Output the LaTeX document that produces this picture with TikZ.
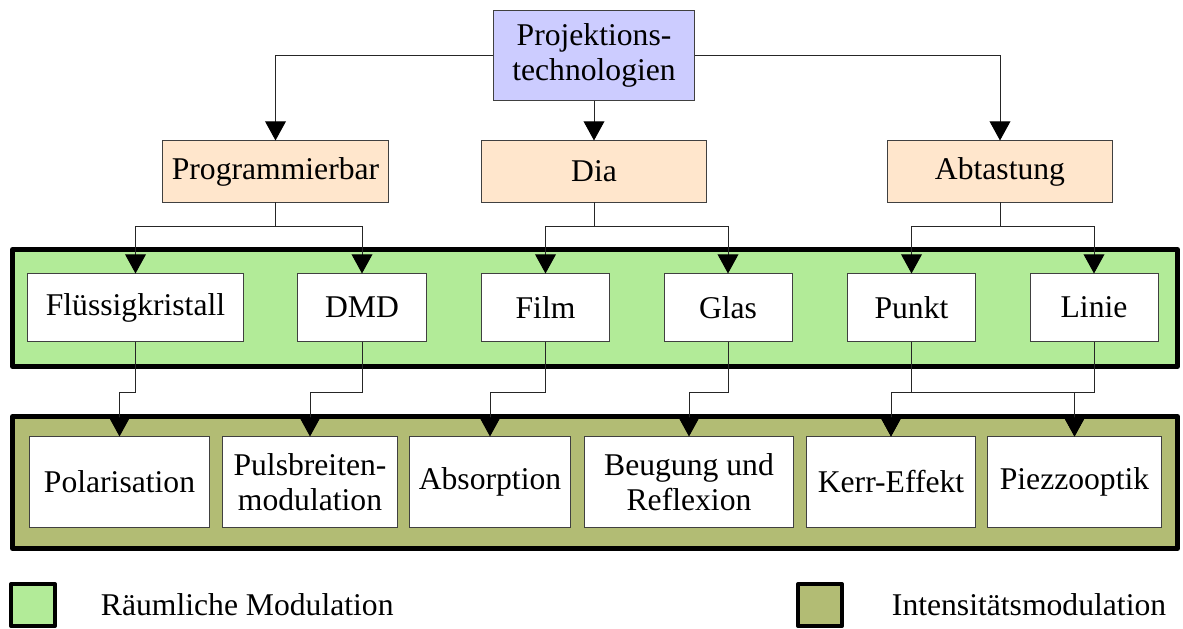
\documentclass[tikz,border=0pt]{standalone}
\usepackage{fontspec}
\setmainfont{Liberation Serif}
\usetikzlibrary{arrows.meta, positioning}

\definecolor{rootblue}{RGB}{204,204,255}
\definecolor{catpeach}{RGB}{255,230,204}
\definecolor{spatgreen}{RGB}{178,235,152}
\definecolor{intolive}{RGB}{178,188,116}

\begin{document}
\begin{tikzpicture}[
    x=0.025cm, y=-0.025cm,
    font=\fontsize{22.5}{25}\selectfont,
    box/.style={draw=black!75, line width=0.7pt, fill=white, inner sep=0pt, align=center},
    root/.style={box, fill=rootblue, minimum width=5cm, minimum height=2.225cm},
    cat/.style={box, fill=catpeach, minimum width=5.625cm, minimum height=1.525cm},
    tech/.style={box, minimum height=1.675cm},
    effect/.style={box, minimum height=2.25cm},
    band/.style={draw=black, line width=3.5pt, line join=round},
    conn/.style={draw=black!85, line width=0.7pt},
    arr/.style={conn, -{Triangle[width=0.52cm, length=0.48cm, color=black]}}
  ]

  \useasboundingbox (0,0) rectangle (1183,629);

%% the two groups of methods sit on coloured bands
  \draw[band, fill=spatgreen] (12.5,249.5) rectangle (1177.5,366.5);
  \draw[band, fill=intolive]  (12.5,416.5) rectangle (1177.5,548.5);

  \node[root] (proj) at (594,55.5) {Projektions-\\technologien};

  \node[cat] (prog) at (275.5,171.5) {Programmierbar};
  \node[cat] (dia)  at (594,171.5)   {Dia};
  \node[cat] (scan) at (1000,171.5)  {Abtastung};

%% how the image is formed
  \node[tech, minimum width=5.375cm] (fluid) at (135.5,307.5)  {Flüssigkristall};
  \node[tech, minimum width=3.2cm]   (dmd)   at (362,307.5)    {DMD};
  \node[tech, minimum width=3.2cm]   (film)  at (545.5,307.5)  {Film};
  \node[tech, minimum width=3.2cm]   (glass) at (728,307.5)    {Glas};
  \node[tech, minimum width=3.2cm]   (point) at (911.5,307.5)  {Punkt};
  \node[tech, minimum width=3.2cm]   (line)  at (1094,307.5)   {Linie};

%% physical effect behind it
  \node[effect, minimum width=4.475cm] (polar) at (119.5,482)  {Polarisation};
  \node[effect, minimum width=4.35cm]  (pwm)   at (310,482)    {Pulsbreiten-\\modulation};
  \node[effect, minimum width=4cm]     (absor) at (490,482)    {Absorption};
  \node[effect, minimum width=5.2cm]   (diffr) at (689,482)    {Beugung und\\Reflexion};
  \node[effect, minimum width=4.2cm]   (kerr)  at (891,482)    {Kerr-Effekt};
  \node[effect, minimum width=4.325cm] (piezo) at (1074.5,482) {Piezzooptik};

  \coordinate (upbus)  at (0,226);
  \coordinate (lowbus) at (0,392);

  \draw[arr] (proj.west) -| (prog.north);
  \draw[arr] (proj.east) -| (scan.north);
  \draw[arr] (proj.south) -- (dia.north);

  \foreach \src/\dst in {prog/fluid, prog/dmd, dia/film, dia/glass, scan/point, scan/line}
    \draw[arr] (\src.south) -- (\src.south |- upbus) -| (\dst.north);

  \foreach \src/\dst in {fluid/polar, dmd/pwm, film/absor, glass/diffr,
                         point/kerr, point/piezo, line/kerr, line/piezo}
    \draw[arr] (\src.south) -- (\src.south |- lowbus) -| (\dst.north);

%% legend
  \draw[band, line width=2.8pt, fill=spatgreen] (11,584) rectangle (55,626);
  \node[anchor=west] (spatial) at (96,605) {Räumliche Modulation};
  \draw[band, line width=2.8pt, fill=intolive] (798,584) rectangle (842,626);
  \node[anchor=west] (intensity) at (887,605) {Intensitätsmodulation};

\end{tikzpicture}
\end{document}
